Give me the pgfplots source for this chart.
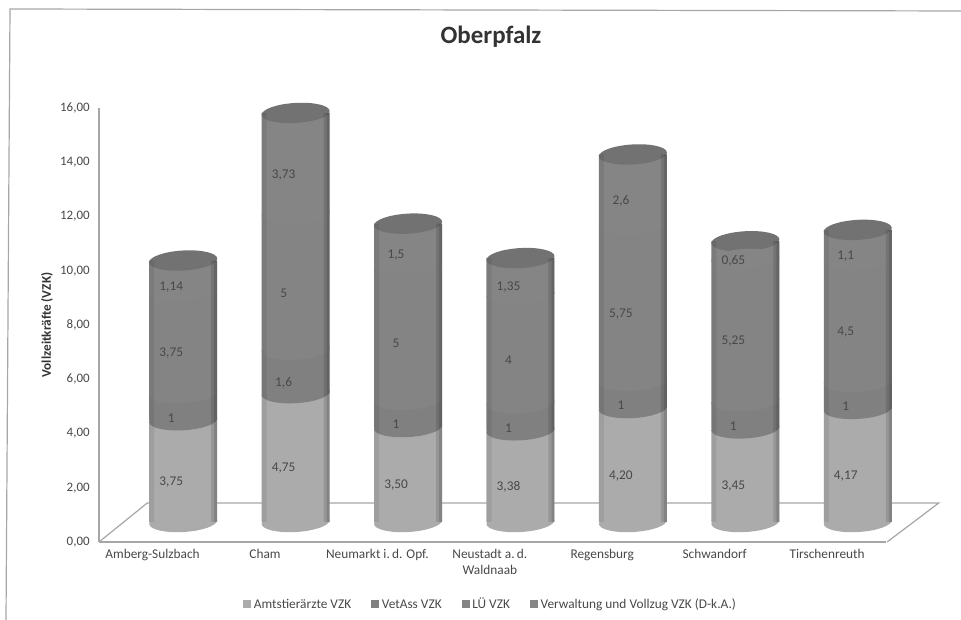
\documentclass[border=0pt]{standalone}
\usepackage{pgfplots}
\pgfplotsset{compat=1.18}
\usepackage{fontspec}
\setmainfont{Carlito}

\definecolor{cylA}{HTML}{ABABAB}
\definecolor{cylB}{HTML}{808080}
\definecolor{cylC}{HTML}{848484}
\definecolor{cylD}{HTML}{858585}
\definecolor{cylTop}{HTML}{727272}
\definecolor{txt}{HTML}{484848}
\definecolor{rule}{HTML}{A6A6A6}

% tilted ellipse that rounds off the stacked bars
\pgfdeclareplotmark{disc}{\pgfpathellipse{\pgfpointorigin}{\pgfqpoint{25.5pt}{1.5pt}}{\pgfqpoint{-0.4pt}{7.5pt}}\pgfusepathqfill}

\pgfplotsset{
  cyl/.style n args={2}{fill=#1,draw=none,mark=disc,mark options={fill=#2,draw=none}},
  band/.style n args={3}{ybar,bar shift=#1,bar width=#2,fill=black,fill opacity=#3,draw=none},
  swatch/.style={legend image code/.code={\fill[##1] (0pt,-3pt) rectangle (6pt,3pt);}},
  same box/.style={anchor=south west,scale only axis,width=590.25pt,height=325.5pt,
    xmin=0.5,xmax=7.5,ymin=0,ymax=16,clip=false},
}

\begin{document}
\begin{tikzpicture}[x=0.75pt,y=0.75pt]
\path[use as bounding box] (0,0) rectangle (961,620);
\draw[rule,line width=0.9pt] (6,0) -- (10,611) -- (961,609);
\node[font=\bfseries\fontsize{18.7}{22}\selectfont,text=black!80] at (491,583) {Oberpfalz};

% axis, floor and category labels
\begin{axis}[at={(74.25pt,58.5pt)},same box,
  axis x line*=bottom,axis y line*=left,axis line style={rule,line width=0.9pt,-},
  major tick length=0pt,
  xtick={1,...,7},
  xticklabels={Amberg-Sulzbach,Cham,Neumarkt i.\,d. Opf.,Neustadt a.\,d.\\Waldnaab,Regensburg,Schwandorf,Tirschenreuth},
  x tick label style={font=\fontsize{10}{12}\selectfont,text=txt,align=center,yshift=-2pt,xshift=-2pt},
  ytick={0,2,...,16},
  y tick label style={font=\fontsize{9.7}{12}\selectfont,text=txt,xshift=-3.5pt,/pgf/number format/.cd,fixed,fixed zerofill,precision=2,use comma,assume math mode=true},
  ylabel={Vollzeitkräfte (VZK)},
  ylabel style={font=\bfseries\fontsize{9.9}{12}\selectfont,text=black!80,at={(axis description cs:-0.066,0.5)},anchor=center},
]
\addplot[rule,line width=0.9pt] coordinates {(0.5,0) (0.93,1.44) (7.97,1.44) (7.51,0)};
\end{axis}

% bottom rims of the cylinders
\begin{axis}[at={(95.25pt,73.5pt)},same box,hide axis]
\addplot[only marks,mark=disc,mark options={fill=cylA,draw=none}] coordinates {(1,0) (2,0) (3,0) (4,0) (5,0) (6,0) (7,0)};
\end{axis}

% cylinders, lifted off the front edge as in the 3D original
\begin{axis}[at={(95.25pt,73.5pt)},same box,hide axis,
  ybar stacked,bar width=51pt,
  legend columns=4,
  legend style={at={(0.4625,-0.189)},anchor=center,draw=none,fill=none,font=\fontsize{10}{12}\selectfont,text=txt,
    nodes={text height=1.6ex,text depth=0.3ex},
    /tikz/every even column/.append style={column sep=13pt},inner sep=0pt},
  swatch,
]
\addplot[cyl={cylA}{cylB}] coordinates {(1,3.75) (2,4.75) (3,3.50) (4,3.38) (5,4.20) (6,3.45) (7,4.17)};
\addplot[cyl={cylB}{cylC}] coordinates {(1,1) (2,1.6) (3,1) (4,1) (5,1) (6,1) (7,1)};
\addplot[cyl={cylC}{cylD}] coordinates {(1,3.75) (2,5) (3,5) (4,4) (5,5.75) (6,5.25) (7,4.5)};
\addplot[cyl={cylD}{cylTop}] coordinates {(1,1.14) (2,3.73) (3,1.5) (4,1.35) (5,2.6) (6,0.65) (7,1.1)};
\legend{Amtstierärzte VZK,VetAss VZK,LÜ VZK,Verwaltung und Vollzug VZK (D-k.A.)}
\end{axis}

% darker sides of the cylinders and the value labels at mid segment
\begin{axis}[at={(95.25pt,73.5pt)},same box,hide axis]
\addplot[band={23.25pt}{4.5pt}{0.12}] coordinates {(1,9.64) (2,15.08) (3,11) (4,9.73) (5,13.55) (6,10.35) (7,10.77)};
\addplot[band={24.4pt}{2.25pt}{0.12}] coordinates {(1,9.64) (2,15.08) (3,11) (4,9.73) (5,13.55) (6,10.35) (7,10.77)};
\addplot[band={-23.6pt}{3.75pt}{0.07}] coordinates {(1,9.64) (2,15.08) (3,11) (4,9.73) (5,13.55) (6,10.35) (7,10.77)};
\addplot[draw=none,mark=none,point meta=explicit symbolic,nodes near coords,
  every node near coord/.append style={font=\fontsize{10}{12}\selectfont,text=txt,anchor=center,xshift=-9pt,yshift=-8.25pt}]
  coordinates {
  (1,1.875)[3,75] (2,2.375)[4,75] (3,1.75)[3,50] (4,1.69)[3,38] (5,2.1)[4,20] (6,1.725)[3,45] (7,2.085)[4,17]
  (1,4.25)[1] (2,5.55)[1,6] (3,4)[1] (4,3.88)[1] (5,4.7)[1] (6,3.95)[1] (7,4.67)[1]
  (1,6.625)[3,75] (2,8.85)[5] (3,7)[5] (4,6.38)[4] (5,8.075)[5,75] (6,7.075)[5,25] (7,7.42)[4,5]
  (1,9.07)[1,14] (2,13.215)[3,73] (3,10.25)[1,5] (4,9.055)[1,35] (5,12.25)[2,6] (6,10.025)[0,65] (7,10.22)[1,1]};
\end{axis}
\end{tikzpicture}
\end{document}
